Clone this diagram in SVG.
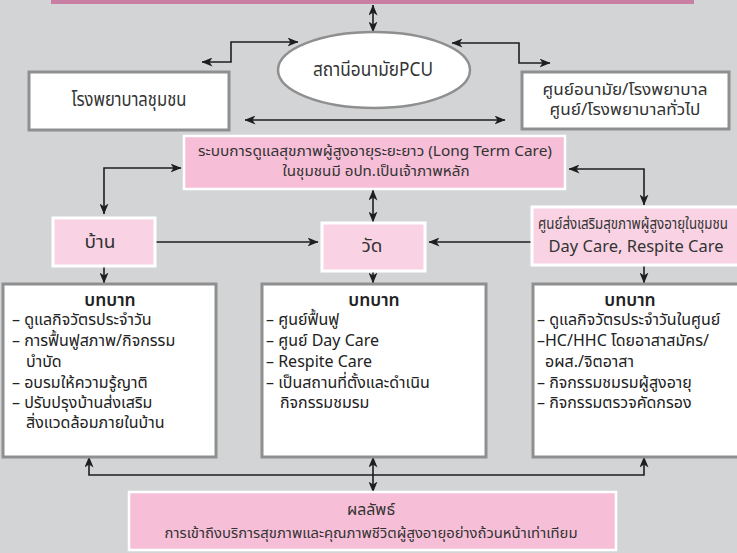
<svg xmlns="http://www.w3.org/2000/svg" width="737" height="553" viewBox="0 0 737 553">
  <style>
    .bg { fill: #d3d4d6; }
    .gbox { fill: #ffffff; stroke: #8f8f8f; stroke-width: 3; }
    .pink { fill: #f6bfd7; stroke: #ffffff; stroke-width: 2.5; }
    .lpink { fill: #f9d3e4; stroke: #ffffff; stroke-width: 3; }
    .conn { fill: none; stroke: #1e1e1e; stroke-width: 1.6; }
    .t { font-family: "Noto Sans Thai", "Noto Sans", "DejaVu Sans", sans-serif; fill: #333333; text-anchor: middle; }
    .r { font-family: "Noto Sans Thai", "Noto Sans", "DejaVu Sans", sans-serif; fill: #222222; font-size: 16px; }
    .h { font-weight: 600; text-anchor: middle; font-size: 17.5px; }
  </style>
  <defs>
    <marker id="ah" viewBox="0 0 11 9" refX="10.5" refY="4.5" markerWidth="11" markerHeight="9" markerUnits="userSpaceOnUse" orient="auto-start-reverse">
      <path d="M0,0 L11,4.5 L0,9 L3,4.5 Z" fill="#1e1e1e"/>
    </marker>
  </defs>

  <rect class="bg" x="0" y="0" width="737" height="553"/>

  <!-- header band -->
  <rect x="51" y="-10" width="643" height="14" fill="#c97fa3"/>

  <!-- connectors -->
  <g id="connectors">
    <path class="conn" d="M373,5 V32" marker-start="url(#ah)" marker-end="url(#ah)"/>
    <path class="conn" d="M298,42 H231 V62 H202" marker-start="url(#ah)" marker-end="url(#ah)"/>
    <path class="conn" d="M452,43 H519 V63 H550" marker-start="url(#ah)" marker-end="url(#ah)"/>
    <path class="conn" d="M245,120 H505" marker-start="url(#ah)" marker-end="url(#ah)"/>
    <path class="conn" d="M373,190 V222" marker-start="url(#ah)" marker-end="url(#ah)"/>
    <path class="conn" d="M181,168 H104 V214" marker-start="url(#ah)" marker-end="url(#ah)"/>
    <path class="conn" d="M569,169 H644 V205" marker-start="url(#ah)" marker-end="url(#ah)"/>
    <path class="conn" d="M156,242 H318" marker-end="url(#ah)"/>
    <path class="conn" d="M531,242 H429" marker-end="url(#ah)"/>
    <path class="conn" d="M104,267 V283" marker-end="url(#ah)"/>
    <path class="conn" d="M373,272 V283" marker-end="url(#ah)"/>
    <path class="conn" d="M644,266 V283" marker-end="url(#ah)"/>
    <path class="conn" d="M89,457 V475 H644 V457" marker-start="url(#ah)" marker-end="url(#ah)"/>
    <path class="conn" d="M373,457 V492" marker-start="url(#ah)" marker-end="url(#ah)"/>
  </g>

  <g id="pcu">
    <ellipse cx="374" cy="70" rx="96" ry="38" fill="#ffffff" stroke="#8f8f8f" stroke-width="2.5"/>
    <text class="t" x="373" y="76" font-size="19" textLength="120" lengthAdjust="spacingAndGlyphs">สถานีอนามัยPCU</text>
  </g>

  <g id="community-hospital">
    <rect class="gbox" x="29" y="72" width="200" height="58"/>
    <text class="t" x="129" y="106" font-size="19" textLength="115" lengthAdjust="spacingAndGlyphs">โรงพยาบาลชุมชน</text>
  </g>

  <g id="regional-hospital">
    <rect class="gbox" x="522" y="72" width="207" height="57"/>
    <text class="t" x="625" y="95" font-size="16.5" textLength="165" lengthAdjust="spacingAndGlyphs">ศูนย์อนามัย/โรงพยาบาล</text>
    <text class="t" x="625" y="115" font-size="16.5" textLength="151" lengthAdjust="spacingAndGlyphs">ศูนย์/โรงพยาบาลทั่วไป</text>
  </g>

  <g id="long-term-care">
    <rect class="pink" x="184" y="136" width="381" height="53"/>
    <text class="t" x="375" y="156" font-size="14" textLength="354" lengthAdjust="spacingAndGlyphs">ระบบการดูแลสุขภาพผู้สูงอายุระยะยาว (Long Term Care)</text>
    <text class="t" x="376" y="176" font-size="14" textLength="187" lengthAdjust="spacingAndGlyphs">ในชุมชนมี อปท.เป็นเจ้าภาพหลัก</text>
  </g>

  <g id="home">
    <rect class="lpink" x="53" y="218" width="102" height="48"/>
    <text class="t" x="100" y="248" font-size="18" textLength="31" lengthAdjust="spacingAndGlyphs">บ้าน</text>
  </g>

  <g id="temple">
    <rect class="lpink" x="322" y="223" width="103" height="48"/>
    <text class="t" x="372" y="252" font-size="18" textLength="21" lengthAdjust="spacingAndGlyphs">วัด</text>
  </g>

  <g id="elderly-center">
    <rect class="lpink" x="532" y="207" width="215" height="58"/>
    <text class="t" x="633" y="229" font-size="15" textLength="190" lengthAdjust="spacingAndGlyphs">ศูนย์ส่งเสริมสุขภาพผู้สูงอายุในชุมชน</text>
    <text class="t" x="636" y="252" font-size="16" textLength="175" lengthAdjust="spacingAndGlyphs">Day Care, Respite Care</text>
  </g>

  <g id="role-home">
    <rect class="gbox" x="3" y="284" width="213" height="173"/>
    <text class="r h" x="110" y="306">บทบาท</text>
    <text class="r" x="12" y="325">– ดูแลกิจวัตรประจำวัน</text>
    <text class="r" x="12" y="346">– การฟื้นฟูสภาพ/กิจกรรม</text>
    <text class="r" x="26" y="367">บำบัด</text>
    <text class="r" x="12" y="388">– อบรมให้ความรู้ญาติ</text>
    <text class="r" x="12" y="408">– ปรับปรุงบ้านส่งเสริม</text>
    <text class="r" x="26" y="428">สิ่งแวดล้อมภายในบ้าน</text>
  </g>

  <g id="role-temple">
    <rect class="gbox" x="262" y="284" width="224" height="173"/>
    <text class="r h" x="374" y="306">บทบาท</text>
    <text class="r" x="266" y="325">– ศูนย์ฟื้นฟู</text>
    <text class="r" x="266" y="346">– ศูนย์ Day Care</text>
    <text class="r" x="266" y="367">– Respite Care</text>
    <text class="r" x="266" y="388">– เป็นสถานที่ตั้งและดำเนิน</text>
    <text class="r" x="280" y="408">กิจกรรมชมรม</text>
  </g>

  <g id="role-center">
    <rect class="gbox" x="533" y="284" width="214" height="173"/>
    <text class="r h" x="630" y="306">บทบาท</text>
    <text class="r" x="537" y="325">– ดูแลกิจวัตรประจำวันในศูนย์</text>
    <text class="r" x="537" y="346">–HC/HHC โดยอาสาสมัคร/</text>
    <text class="r" x="545" y="367">อผส./จิตอาสา</text>
    <text class="r" x="537" y="388">– กิจกรรมชมรมผู้สูงอายุ</text>
    <text class="r" x="537" y="408">– กิจกรรมตรวจคัดกรอง</text>
  </g>

  <g id="outcome">
    <rect class="pink" x="129" y="492" width="487" height="58"/>
    <text class="t" x="371" y="515" font-size="15" textLength="48" lengthAdjust="spacingAndGlyphs">ผลลัพธ์</text>
    <text class="t" x="371" y="538" font-size="14" textLength="413" lengthAdjust="spacingAndGlyphs">การเข้าถึงบริการสุขภาพและคุณภาพชีวิตผู้สูงอายุอย่างถ้วนหน้าเท่าเทียม</text>
  </g>
</svg>
